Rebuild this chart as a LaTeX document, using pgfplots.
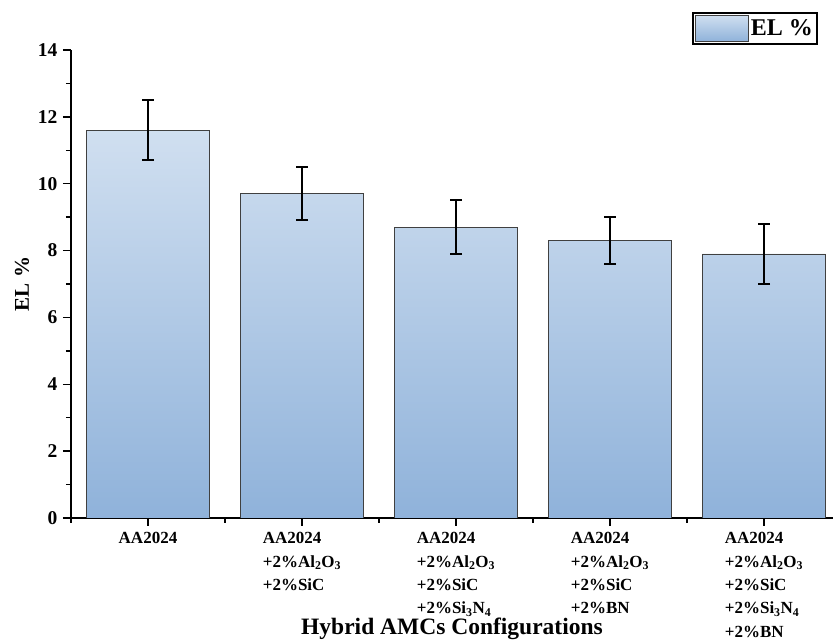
\documentclass[border=0pt]{standalone}
\usepackage{pgfplots}
\pgfplotsset{compat=1.18}
\usepackage{fontspec}
\setmainfont{Liberation Serif}
\definecolor{bartop}{RGB}{208,223,240}
\definecolor{barbot}{RGB}{143,178,218}
\begin{document}
\begin{tikzpicture}
\begin{axis}[
  at={(71pt,124pt)}, anchor=south west,
  scale only axis, width=762pt, height=468pt,
  xmin=-0.5, xmax=4.448, ymin=0, ymax=14,
  axis x line*=bottom, axis y line*=left,
  axis line style={line width=1.4pt},
  tick align=outside,
  major tick length=8pt, minor tick length=5pt,
  every tick/.style={line width=1.3pt, black},
  ytick={0,2,...,14}, minor ytick={1,3,...,13},
  xtick={0,1,2,3,4}, minor xtick={-0.5,0.5,1.5,2.5,3.5},
  xticklabels={
    AA2024,
    {AA2024\\+2\%Al\textsubscript{2}O\textsubscript{3}\\+2\%SiC},
    {AA2024\\+2\%Al\textsubscript{2}O\textsubscript{3}\\+2\%SiC\\+2\%Si\textsubscript{3}N\textsubscript{4}},
    {AA2024\\+2\%Al\textsubscript{2}O\textsubscript{3}\\+2\%SiC\\+2\%BN},
    {AA2024\\+2\%Al\textsubscript{2}O\textsubscript{3}\\+2\%SiC\\+2\%Si\textsubscript{3}N\textsubscript{4}\\+2\%BN}},
  xticklabel style={font=\fontsize{17}{23.3}\selectfont\bfseries, align=left, anchor=north, yshift=-3pt},
  yticklabel style={font=\fontsize{19.5}{19.5}\selectfont\bfseries, xshift=-2pt},
  /pgf/number format/assume math mode=true,
  xlabel={Hybrid AMCs Configurations},
  xlabel style={font=\fontsize{23.5}{23.5}\selectfont\bfseries, at={(axis description cs:0.5,0)}, anchor=center, yshift=-111pt},
  ylabel={EL \%},
  ylabel style={font=\fontsize{21}{21}\selectfont\bfseries, at={(axis description cs:0,0.5)}, anchor=center, yshift=49pt},
  legend style={at={(axis description cs:0.980,1.081)}, anchor=north east, draw=black, line width=1.8pt, inner sep=2pt, font=\fontsize{24}{24}\selectfont\bfseries},
  legend image code/.code={\draw[line width=0.8pt, draw=black!75, top color=bartop, bottom color=barbot] (-2pt,-13pt) rectangle (51pt,13pt);},
]
\addplot[ybar, bar width=0.8, draw=black!75, line width=0.8pt, top color=bartop, bottom color=barbot,
  error bars/.cd, y dir=both, y explicit,
  error bar style={line width=2pt, black},
  error mark options={rotate=90, mark size=6pt, line width=2pt, black}]
  coordinates {
    (0,11.6) +- (0,0.9)
    (1,9.7)  +- (0,0.8)
    (2,8.7)  +- (0,0.8)
    (3,8.3)  +- (0,0.7)
    (4,7.9)  +- (0,0.9)
  };
\addlegendentry{EL \%}
\end{axis}
\pgfresetboundingbox
\path[use as bounding box] (0,0) rectangle (833pt,642pt);
\end{tikzpicture}
\end{document}
